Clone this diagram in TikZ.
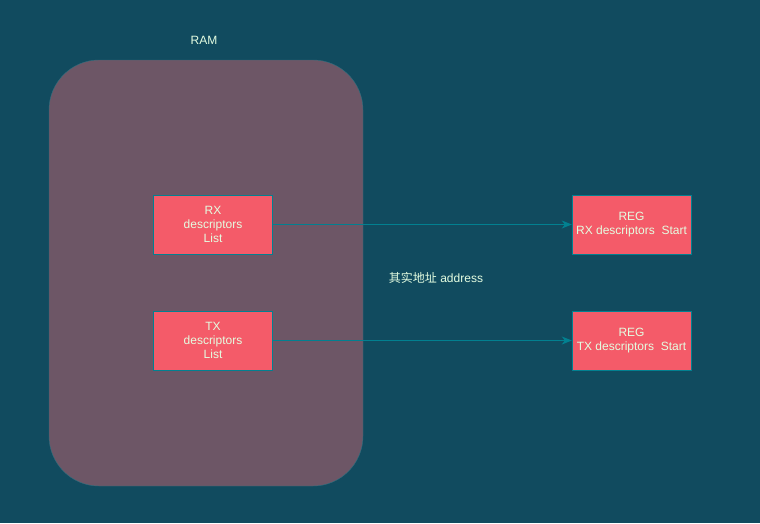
\documentclass[tikz,border=0pt]{standalone}
\usepackage{fontspec}
\setmainfont{Liberation Sans}
\newfontfamily\cjk{Noto Sans CJK SC}
\usepackage{tikz}
\usetikzlibrary{arrows.meta,positioning,calc}
\definecolor{bgteal}{HTML}{114B5F}
\definecolor{ramfill}{HTML}{6D5666}
\definecolor{boxred}{HTML}{F45B69}
\definecolor{edgeteal}{HTML}{028090}
\definecolor{txtlight}{HTML}{E4FDE1}
\tikzset{desc/.style={draw=edgeteal,fill=boxred,align=center,minimum width=119pt,minimum height=59pt,inner sep=0pt,text=txtlight,font=\fontsize{12}{14}\selectfont},
msg/.style={-{Stealth[length=10pt,width=8pt,inset=3pt]},draw=edgeteal,fill=edgeteal,line width=1.2pt},
lab/.style={text=txtlight,font=\fontsize{12}{14}\selectfont,inner sep=1pt}}

\begin{document}
\begin{tikzpicture}[x=1pt,y=-1pt]
\useasboundingbox[fill=bgteal] (0,0) rectangle (760,523);
\node[draw=edgeteal!60!ramfill,fill=ramfill,rounded corners=50pt,minimum width=314pt,minimum height=426pt] (ram) at (206,273) {};
\node[lab] (ramlab) at (204,40) {RAM};
\node[desc] (rx) at (213,224.5) {RX\\descriptors\\List};
\node[desc] (tx) at (213,340.5) {TX\\descriptors\\List};
\node[desc] (rxreg) at (631.5,224.5) {REG\\RX descriptors\ \ Start};
\node[desc] (txreg) at (631.5,340.5) {REG\\TX descriptors\ \ Start};
\draw[msg] (rx)--(rxreg);
\draw[msg] (tx)--(txreg);
\node[lab] (addr) at (436,278) {{\cjk 其实地址} address};
\end{tikzpicture}
\end{document}
